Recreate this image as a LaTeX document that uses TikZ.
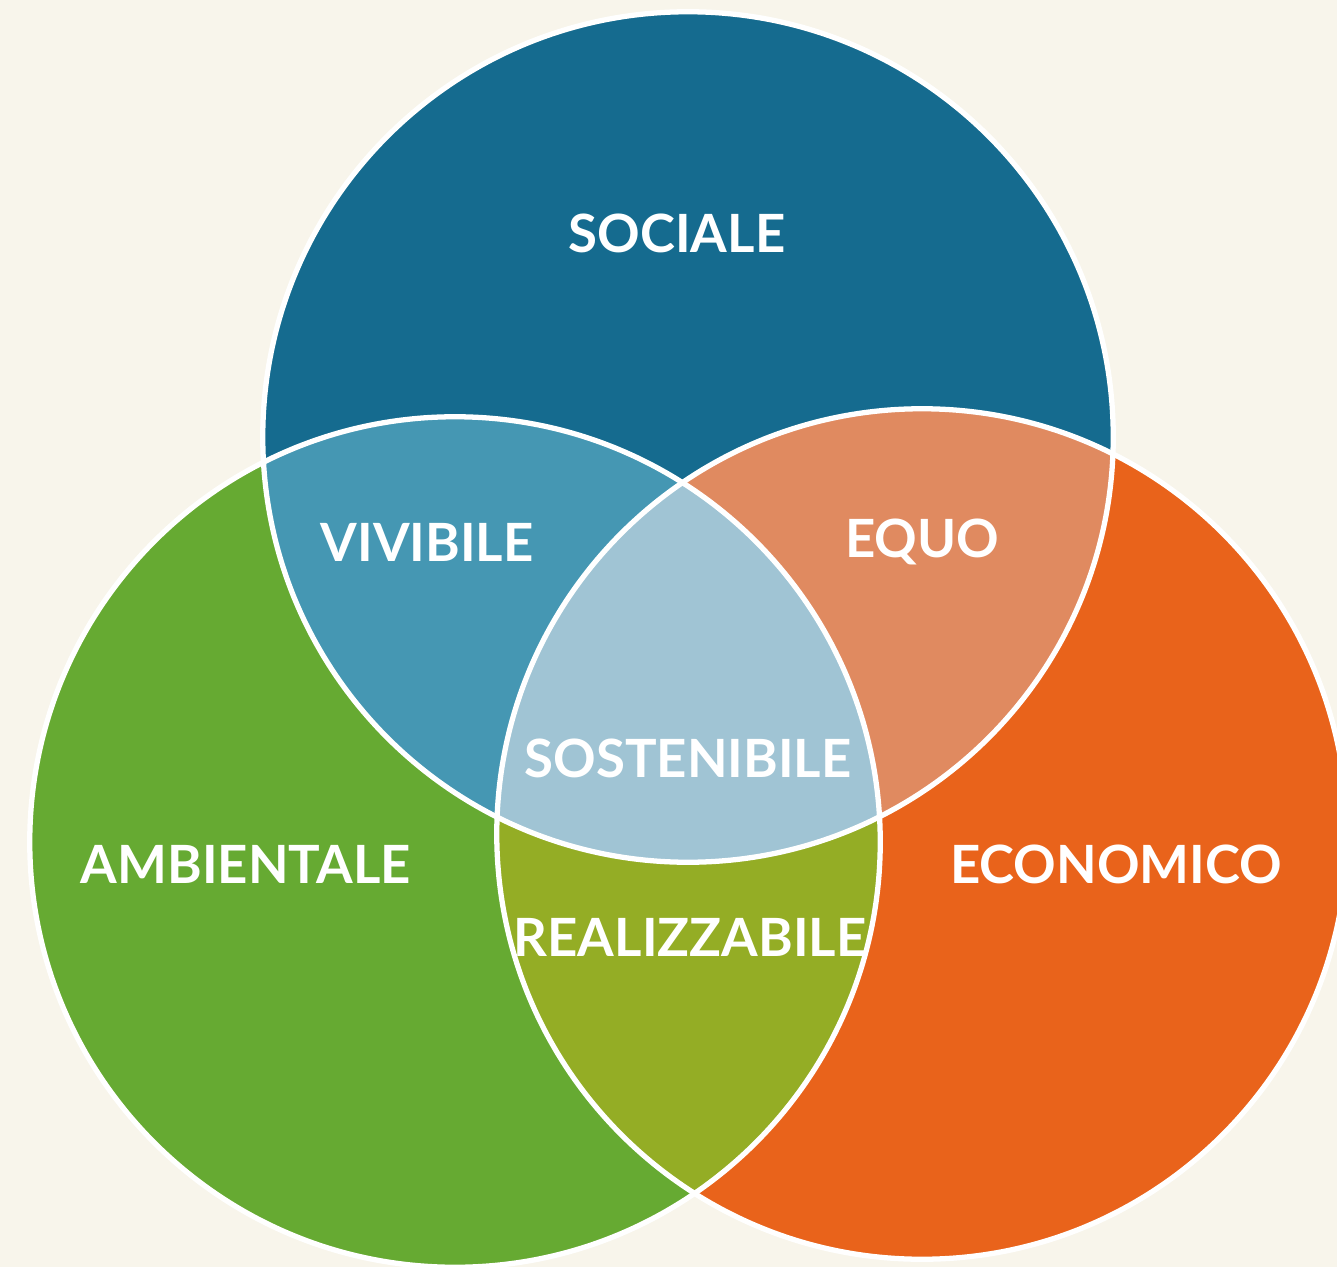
\documentclass[tikz,border=0pt]{standalone}
\usepackage{fontspec}
\setmainfont{Lato}
\definecolor{bgcream}{HTML}{F8F5EB}
\definecolor{socblue}{HTML}{156B8F}
\definecolor{ambgreen}{HTML}{66AA32}
\definecolor{ecoorange}{HTML}{E9631B}
\definecolor{vivblue}{HTML}{4597B3}
\definecolor{equorange}{HTML}{E08A60}
\definecolor{sostblue}{HTML}{A0C4D4}
\definecolor{realgreen}{HTML}{94AD25}
\begin{document}
\begin{tikzpicture}[
        x=0.01cm, y=-0.01cm,
        lab/.style={text=white, inner sep=0pt, font=\fontsize{15}{18}\selectfont\bfseries},
        ring/.style={draw=white, line width=1.5pt},
        ]
        \fill[bgcream] (0,0) rectangle (1337,1267);
        \useasboundingbox (0,0) rectangle (1337,1267);
        \def\rad{4.25cm}
        \coordinate (soc) at (688,437);
        \coordinate (amb) at (455,842);
        \coordinate (eco) at (922,834);

        \foreach \c / \col in {soc/socblue, amb/ambgreen, eco/ecoorange}
        {
            \fill[\col] (\c) circle[radius=\rad];
        }
        % two-circle overlaps
        \begin{scope}
            \clip (amb) circle[radius=\rad];
            \fill[realgreen] (eco) circle[radius=\rad];
        \end{scope}
        \begin{scope}
            \clip (soc) circle[radius=\rad];
            \fill[vivblue] (amb) circle[radius=\rad];
            \fill[equorange] (eco) circle[radius=\rad];
            % centre
            \clip (amb) circle[radius=\rad];
            \fill[sostblue] (eco) circle[radius=\rad];
        \end{scope}
        \foreach \c in {soc, amb, eco}
        {
            \draw[ring] (\c) circle[radius=\rad];
        }

        \node[lab] (sociale) at (677,233) {SOCIALE};
        \node[lab] (vivibile) at (427,542) {VIVIBILE};
        \node[lab] (equo) at (922,542) {EQUO};
        \node[lab] (sostenibile) at (688,758) {SOSTENIBILE};
        \node[lab] (ambientale) at (246,864) {AMBIENTALE};
        \node[lab] (economico) at (1116,864) {ECONOMICO};
        \node[lab] (realizzabile) at (690,937) {REALIZZABILE};
    \end{tikzpicture}
\end{document}
